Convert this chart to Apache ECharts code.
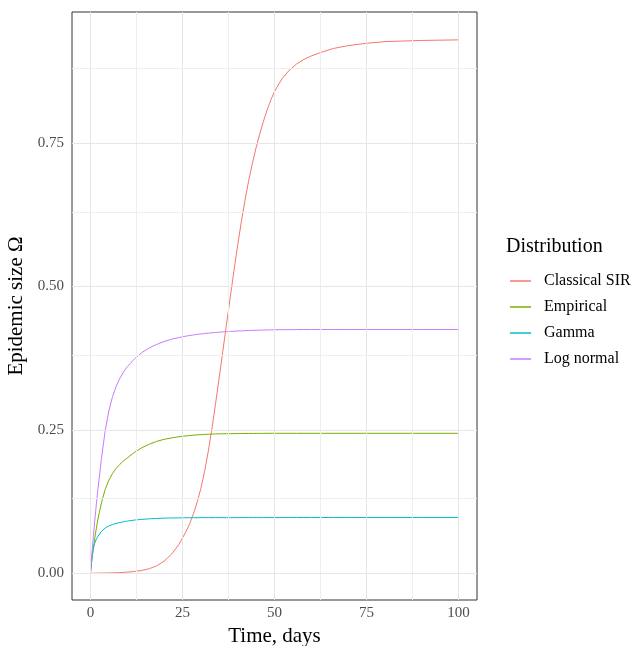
<!DOCTYPE html>
<html>
<head>
<meta charset="utf-8">
<script src="https://cdn.jsdelivr.net/npm/echarts@6/dist/echarts.min.js"></script>
<style>
  html, body { margin: 0; padding: 0; background: #fff; overflow: hidden; }
  #chart { width: 636px; height: 646px; }
</style>
</head>
<body>
<div id="chart"></div>
<script>
// time points (days), shared by all curves
var days = [0, 0.5, 1, 1.5, 2, 3, 4, 5, 6, 7,
  8, 9, 10, 12, 14, 16, 18, 20, 22, 24,
  26, 27, 28, 29, 30, 31, 32, 33, 34, 35,
  36, 37, 38, 39, 40, 41, 42, 43, 44, 45,
  46, 47, 48, 49, 50, 52, 54, 56, 58, 60,
  63, 66, 70, 75, 80, 90, 100];

var classicalSIR = [0, 0, 0.0001, 0.0001, 0.0002, 0.0003, 0.0004, 0.0005, 0.0007, 0.0009,
  0.0012, 0.0016, 0.002, 0.0032, 0.005, 0.008, 0.013, 0.021, 0.033, 0.05,
  0.073, 0.087, 0.104, 0.124, 0.148, 0.177, 0.212, 0.252, 0.296, 0.342,
  0.389, 0.436, 0.482, 0.528, 0.572, 0.613, 0.651, 0.685, 0.715, 0.742,
  0.766, 0.788, 0.808, 0.825, 0.84, 0.862, 0.877, 0.888, 0.896, 0.902,
  0.909, 0.915, 0.92, 0.924, 0.927, 0.929, 0.93];

var empirical = [0, 0.03, 0.053, 0.074, 0.093, 0.123, 0.146, 0.162, 0.174, 0.183,
  0.19, 0.196, 0.201, 0.211, 0.219, 0.225, 0.23, 0.2335, 0.236, 0.238,
  0.2395, 0.2402, 0.2408, 0.2413, 0.2417, 0.2421, 0.2424, 0.2427, 0.2429, 0.2431,
  0.2432, 0.2433, 0.2434, 0.2435, 0.2436, 0.2437, 0.2437, 0.2438, 0.2438, 0.2439,
  0.2439, 0.2439, 0.244, 0.244, 0.244, 0.244, 0.244, 0.244, 0.244, 0.244,
  0.244, 0.244, 0.244, 0.244, 0.244, 0.244, 0.244];

var gamma = [0, 0.031, 0.049, 0.058, 0.064, 0.073, 0.079, 0.0825, 0.085, 0.087,
  0.0885, 0.0898, 0.091, 0.0928, 0.094, 0.0949, 0.0956, 0.0961, 0.0964, 0.0966,
  0.0968, 0.0968, 0.0969, 0.0969, 0.097, 0.097, 0.097, 0.097, 0.097, 0.097,
  0.097, 0.097, 0.097, 0.097, 0.097, 0.0971, 0.0971, 0.0971, 0.0971, 0.0971,
  0.0971, 0.0971, 0.0971, 0.0971, 0.0971, 0.0972, 0.0972, 0.0972, 0.0972, 0.0972,
  0.0972, 0.0972, 0.0972, 0.0972, 0.0972, 0.0972, 0.0972];

var logNormal = [0, 0.042, 0.079, 0.113, 0.144, 0.2, 0.248, 0.283, 0.308, 0.326,
  0.34, 0.351, 0.36, 0.374, 0.385, 0.393, 0.399, 0.404, 0.408, 0.411,
  0.4135, 0.4146, 0.4156, 0.4165, 0.4173, 0.418, 0.4187, 0.4193, 0.4199, 0.4204,
  0.4209, 0.4213, 0.4217, 0.4221, 0.4224, 0.4227, 0.423, 0.4233, 0.4235, 0.4237,
  0.4239, 0.4241, 0.4242, 0.4244, 0.4245, 0.4247, 0.4248, 0.4249, 0.425, 0.425,
  0.425, 0.425, 0.425, 0.425, 0.425, 0.425, 0.425];

var seriesNames = ['Classical SIR', 'Empirical', 'Gamma', 'Log normal'];
var seriesColors = ['#F8766D', '#7CAE00', '#00BFC4', '#C77CFF'];

// ticks and grid lines
var xTicks = [0, 25, 50, 75, 100];
var xMinor = [12.5, 37.5, 62.5, 87.5];
var yTicks = [0, 0.25, 0.5, 0.75];
var yMinor = [0.125, 0.375, 0.625, 0.875];

var FONT = 'Liberation Serif';

function pairs(vals) {
  return days.map(function (d, i) { return [d, vals[i]]; });
}

var gridLines = [];
xTicks.forEach(function (v) { gridLines.push({ xAxis: v, lineStyle: { color: '#E6E6E6', width: 1 } }); });
xMinor.forEach(function (v) { gridLines.push({ xAxis: v, lineStyle: { color: '#EEEEEE', width: 1 } }); });
yTicks.forEach(function (v) { gridLines.push({ yAxis: v, lineStyle: { color: '#E6E6E6', width: 1 } }); });
yMinor.forEach(function (v) { gridLines.push({ yAxis: v, lineStyle: { color: '#EEEEEE', width: 1 } }); });

var series = [{
  name: 'grid',
  type: 'line',
  data: [],
  z: 1,
  silent: true,
  markLine: {
    silent: true,
    animation: false,
    symbol: ['none', 'none'],
    label: { show: false },
    lineStyle: { type: 'solid' },
    emphasis: { disabled: true },
    data: gridLines
  }
}];

[classicalSIR, empirical, gamma, logNormal].forEach(function (vals, i) {
  series.push({
    name: seriesNames[i],
    type: 'line',
    data: pairs(vals),
    z: 3,
    showSymbol: false,
    symbol: 'none',
    smooth: false,
    color: seriesColors[i],
    lineStyle: { color: seriesColors[i], width: 1 }
  });
});

var chart = echarts.init(document.getElementById('chart'), null, { renderer: 'canvas' });
chart.setOption({
  animation: false,
  backgroundColor: '#fff',
  title: {
    text: 'Distribution',
    left: 506,
    top: 237,
    padding: 0,
    textStyle: { fontFamily: FONT, fontSize: 20, fontWeight: 'normal', color: '#000' }
  },
  legend: {
    data: seriesNames,
    orient: 'vertical',
    left: 510,
    top: 273,
    padding: 0,
    itemGap: 10,
    itemWidth: 21,
    itemHeight: 1.5,
    icon: 'rect',
    selectedMode: false,
    textStyle: { fontFamily: FONT, fontSize: 16, color: '#000', lineHeight: 16, padding: [0, 0, 0, 8] }
  },
  grid: {
    left: 72,
    right: 159,
    top: 12,
    bottom: 46,
    show: true,
    borderColor: '#333333',
    borderWidth: 1,
    containLabel: false,
    outerBoundsMode: 'none'
  },
  xAxis: {
    type: 'value',
    min: -5,
    max: 105,
    name: 'Time, days',
    nameLocation: 'middle',
    nameGap: 22,
    nameTextStyle: { fontFamily: FONT, fontSize: 21, color: '#000' },
    axisLine: { show: false },
    splitLine: { show: false },
    axisTick: { show: true, length: 3, customValues: xTicks, lineStyle: { color: '#333333' } },
    axisLabel: { customValues: xTicks, margin: 6, fontFamily: FONT, fontSize: 15, color: '#4D4D4D' }
  },
  yAxis: {
    type: 'value',
    min: -0.0466,
    max: 0.9786,
    name: 'Epidemic size Ω',
    nameLocation: 'middle',
    nameGap: 40,
    nameTextStyle: { fontFamily: FONT, fontSize: 21, color: '#000' },
    axisLine: { show: false },
    splitLine: { show: false },
    axisTick: { show: true, length: 3, customValues: yTicks, lineStyle: { color: '#333333' } },
    axisLabel: {
      customValues: yTicks,
      margin: 8,
      fontFamily: FONT,
      fontSize: 15,
      color: '#4D4D4D',
      formatter: function (v) { return v.toFixed(2); }
    }
  },
  series: series
});
</script>
</body>
</html>
